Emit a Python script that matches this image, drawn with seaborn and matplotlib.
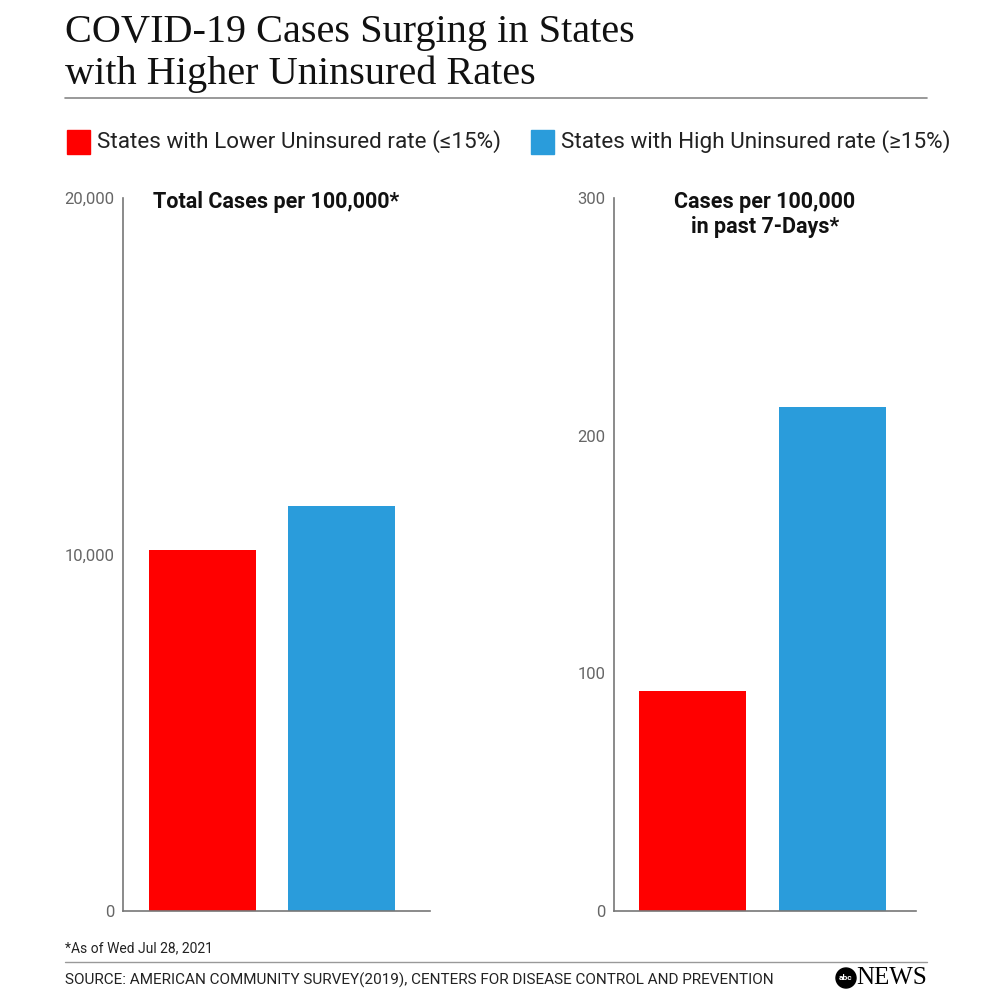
import numpy as np
import pandas as pd
import matplotlib.pyplot as plt
import seaborn as sns
from matplotlib.patches import Rectangle, Circle
from matplotlib.lines import Line2D

groups = ['States with Lower Uninsured rate (≤15%)', 'States with High Uninsured rate (≥15%)']
total_cases = [10130, 11360]
week_cases = [92.6, 212.0]
colors = ['#FF0000', '#2A9CDB']

sns.set_style('white')
plt.rcParams['font.family'] = ['Roboto', 'DejaVu Sans']

df_total = pd.DataFrame({'group': groups, 'value': total_cases})
df_week = pd.DataFrame({'group': groups, 'value': week_cases})

fig = plt.figure(figsize=(9.92, 9.92), dpi=100)
W = H = 992.0

def px(x0, y0, x1, y1):
    return [x0 / W, 1 - y1 / H, (x1 - x0) / W, (y1 - y0) / H]

ax1 = fig.add_axes(px(123, 198, 430, 911))
ax2 = fig.add_axes(px(614, 198, 916, 911))

for ax, df, ymax, ticks, labels, title, xl in [
        (ax1, df_total, 20000, [0, 10000, 20000], ['0', '10,000', '20,000'],
         'Total Cases per 100,000*', (-0.572, 1.637)),
        (ax2, df_week, 300, [0, 100, 200, 300], ['0', '100', '200', '300'],
         'Cases per 100,000\nin past 7-Days*', (-0.56, 1.597))]:
    sns.barplot(data=df, x='group', y='value', hue='group', palette=colors,
                width=0.77, legend=False, ax=ax, linewidth=0, saturation=1)
    ax.set_ylim(0, ymax)
    ax.set_xlim(*xl)
    ax.set_yticks(ticks)
    ax.set_yticklabels(labels)
    ax.set_xticks([])
    ax.set_xlabel('')
    ax.set_ylabel('')
    ax.tick_params(axis='y', length=0, pad=6, labelsize=12, labelcolor='#666666')
    for s in ['top', 'right']:
        ax.spines[s].set_visible(False)
    for s in ['left', 'bottom']:
        ax.spines[s].set_color('#777777')
        ax.spines[s].set_linewidth(1.2)
    ax.text(0.5, 1.01, title, transform=ax.transAxes, ha='center', va='top',
            fontsize=15.5, fontweight='bold', color='#111111', linespacing=1.2)

# title
fig.text(65 / W, 1 - 14 / H, 'COVID-19 Cases Surging in States\nwith Higher Uninsured Rates',
         ha='left', va='top', fontsize=29, family=['Liberation Serif'], color='#111111',
         linespacing=1.17)
fig.add_artist(Line2D([65 / W, 927 / W], [1 - 98 / H, 1 - 98 / H], color='#888888', lw=1.2))

# legend
for x0, c, lab in [(67, colors[0], groups[0]), (531, colors[1], groups[1])]:
    fig.add_artist(Rectangle((x0 / W, 1 - 154 / H), 23 / W, 24 / H, color=c, transform=fig.transFigure))
    fig.text((x0 + 30) / W, 1 - 142 / H, lab, ha='left', va='center', fontsize=16.2, color='#222222')

# footer
fig.text(65 / W, 1 - 948 / H, '*As of Wed Jul 28, 2021', ha='left', va='center', fontsize=10, color='#222222')
fig.add_artist(Line2D([65 / W, 927 / W], [1 - 962 / H, 1 - 962 / H], color='#999999', lw=1))
fig.text(65 / W, 1 - 980 / H,
         'SOURCE: AMERICAN COMMUNITY SURVEY(2019), CENTERS FOR DISEASE CONTROL AND PREVENTION',
         ha='left', va='center', fontsize=11, color='#222222')
fig.add_artist(Circle((846 / W, 1 - 978 / H), 10 / W, color='black', transform=fig.transFigure))
fig.text(846 / W, 1 - 978 / H, 'abc', ha='center', va='center', fontsize=6, fontweight='bold', color='white')
fig.text(856 / W, 1 - 978 / H, 'NEWS', ha='left', va='center', fontsize=18,
         family=['Liberation Serif'], color='black')

fig.savefig('out.png', dpi=100)
